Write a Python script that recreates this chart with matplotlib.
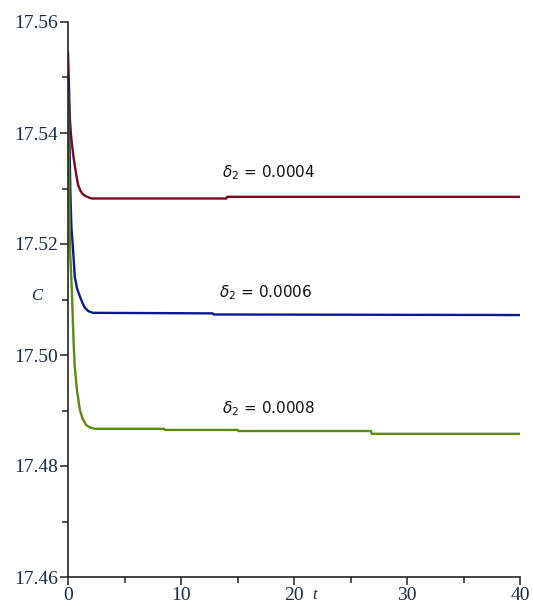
import matplotlib
matplotlib.use("Agg")
import matplotlib.pyplot as plt
from matplotlib.ticker import MultipleLocator

# Data
t_red = [0.0, 0.12, 0.18, 0.25, 0.35, 0.5, 0.6, 0.75, 0.9, 1.1, 1.3, 1.5, 1.8, 2.1, 2.5, 14.0, 14.1, 40.0]
c_red = [17.5545, 17.5460, 17.5420, 17.5400, 17.5380, 17.5355, 17.5342, 17.5322, 17.5306, 17.5296, 17.5290, 17.5287, 17.5284, 17.5282, 17.5282, 17.5282, 17.5285, 17.5285]

t_blue = [0.0, 0.1, 0.2, 0.3, 0.45, 0.6, 0.8, 1.06, 1.3, 1.5, 1.8, 2.2, 12.8, 12.9, 40.0]
c_blue = [17.5505, 17.5420, 17.5300, 17.5230, 17.5189, 17.5141, 17.5120, 17.5105, 17.5093, 17.5085, 17.5079, 17.5076, 17.5075, 17.5073, 17.5072]

t_green = [0.0, 0.1, 0.2, 0.35, 0.5, 0.6, 0.8, 1.06, 1.3, 1.6, 2.0, 2.4, 8.5, 8.6, 15.0, 15.1, 26.8, 26.9, 40.0]
c_green = [17.5470, 17.5300, 17.5180, 17.5112, 17.5020, 17.4978, 17.4935, 17.4900, 17.4885, 17.4874, 17.4869, 17.4867, 17.4867, 17.4865, 17.4865, 17.4863, 17.4863, 17.4858, 17.4858]

labels = [r"$\delta_2$ = 0.0004", r"$\delta_2$ = 0.0006", r"$\delta_2$ = 0.0008"]
label_t = [13.6, 13.4, 13.6]
label_c = [17.5328, 17.5113, 17.4903]

x_ticks = [0, 10, 20, 30, 40]
y_ticks = [17.46, 17.48, 17.50, 17.52, 17.54, 17.56]

colors = ["#7a0a1e", "#0c1890", "#5a8a10"]

fig = plt.figure(figsize=(5.33, 6.10), dpi=100)
ax = fig.add_axes([68/533, 1-577/610, (520-68)/533, (577-22)/610])

for t, c, col in zip([t_red, t_blue, t_green], [c_red, c_blue, c_green], colors):
    ax.plot(t, c, color=col, lw=1.7, solid_joinstyle="miter")

for lab, tx, cy in zip(labels, label_t, label_c):
    ax.text(tx, cy, lab, fontsize=11, family="DejaVu Sans", ha="left", va="center", color="#111111")

ax.set_xlim(0, 40)
ax.set_ylim(17.46, 17.56)
ax.set_xticks(x_ticks)
ax.set_yticks(y_ticks)
ax.set_xticklabels([str(v) for v in x_ticks])
ax.set_yticklabels([f"{v:.2f}" for v in y_ticks])
ax.xaxis.set_minor_locator(MultipleLocator(5))
ax.yaxis.set_minor_locator(MultipleLocator(0.01))

for s in ["top", "right"]:
    ax.spines[s].set_visible(False)
for s in ["left", "bottom"]:
    ax.spines[s].set_linewidth(1.2)
    ax.spines[s].set_color("#222222")

ax.tick_params(which="major", direction="out", length=6, width=1.1, colors="#222222",
               labelsize=14, labelcolor="#1c2a44", pad=1)
ax.tick_params(which="minor", direction="out", length=4, width=1.1, colors="#222222")
for lbl in ax.get_xticklabels() + ax.get_yticklabels():
    lbl.set_family("Liberation Serif")

fig.text(37/533, 1-296/610, "C", fontsize=12, style="italic", family="Liberation Serif",
         ha="center", va="center", color="#1c2a44")
fig.text(315/533, 1-595/610, "t", fontsize=12, style="italic", family="Liberation Serif",
         ha="center", va="center", color="#1c2a44")

fig.savefig("out.png", dpi=100)
